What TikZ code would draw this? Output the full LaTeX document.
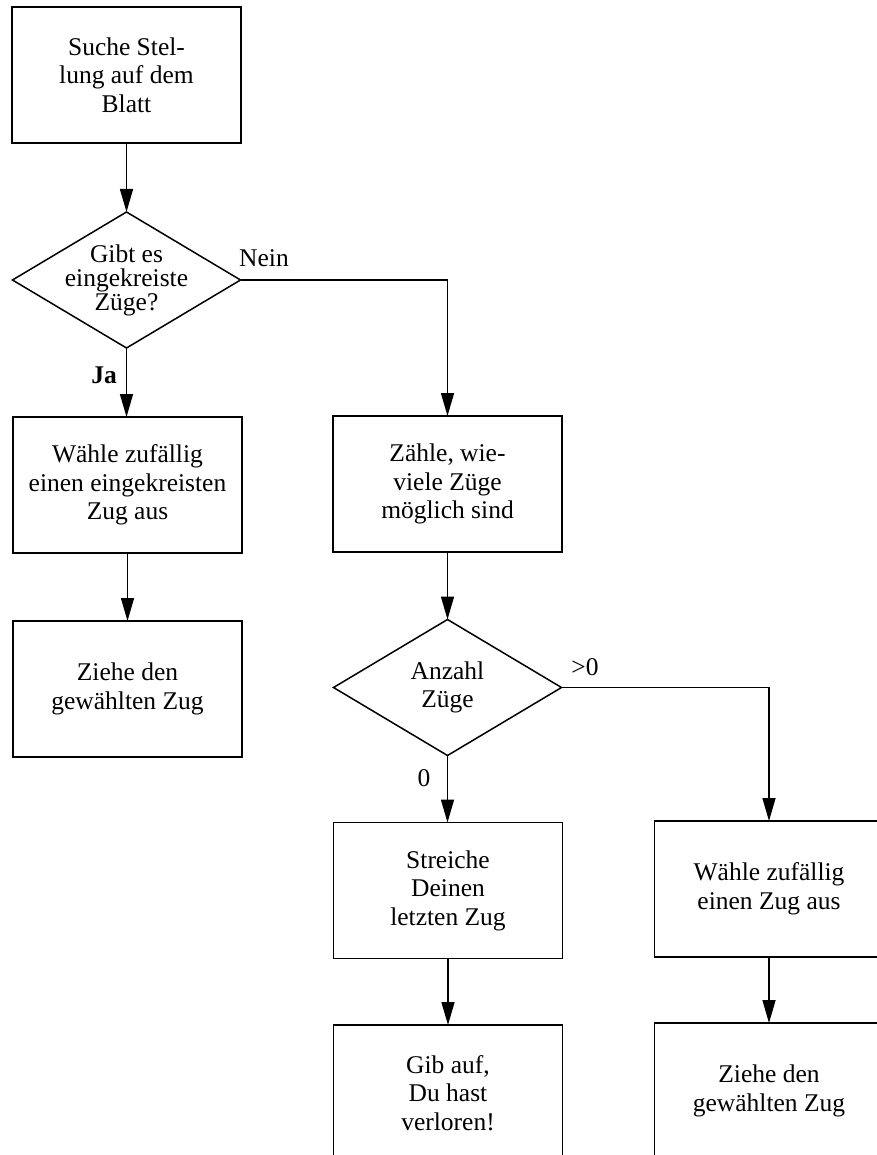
\documentclass[tikz,border=0pt]{standalone}
\usepackage{fontspec}
\setmainfont{Liberation Serif}
\usetikzlibrary{arrows.meta,shapes.geometric}
\begin{document}
\begin{tikzpicture}[x=1pt,y=-1pt,
  box/.style={draw, line width=1.5pt, rectangle, minimum width=229pt, minimum height=136pt, inner sep=0pt, outer sep=0pt, align=center, font=\fontsize{25.5}{28.5}\selectfont},
  dia/.style={draw, line width=1.5pt, diamond, minimum width=228pt, minimum height=136pt, inner sep=0pt, outer sep=0pt},
  txt/.style={align=center, font=\fontsize{25.5}{28.5}\selectfont, inner sep=0pt},
  lbl/.style={font=\fontsize{25.5}{28.5}\selectfont, inner sep=0pt},
  arr/.style={line width=1.5pt, -{Triangle[length=23pt,width=13pt]}}]
\useasboundingbox[fill=white] (0,0) rectangle (876,1155);

\node[box] (b1) at (126.5,75) {Suche Stel-\\lung auf dem\\Blatt};
\node[dia] (d1) at (126.5,280) {};
\node[txt, font=\fontsize{25.5}{24}\selectfont] (d1t) at (d1) {Gibt es\\eingekreiste\\Züge?};
\node[box] (b2) at (127.5,485) {Wähle zufällig\\einen\ eingekreisten\\Zug aus};
\node[box] (b4) at (127.5,689) {Ziehe den\\gewählten Zug};
\node[box] (b3) at (447.5,484) {Zähle, wie-\\viele Züge\\möglich sind};
\node[dia] (d2) at (447.5,687.5) {};
\node[txt] (d2t) at (d2) {Anzahl\\Züge};
\node[box] (b5) at (448,890.5) {Streiche\\Deinen\\letzten Zug};
\node[box] (b7) at (448,1093) {Gib auf,\\Du hast\\verloren!};
\node[box] (b6) at (769,889) {Wähle zufällig\\einen Zug aus};
\node[box] (b8) at (769,1091) {Ziehe den\\gewählten Zug};

\draw[arr] (b1.south) -- (d1.north);
\draw[arr] (d1.south) -- (d1.south |- b2.north);
\draw[arr] (b2.south) -- (b4.north);
\draw[arr] (d1.east) -| (b3.north);
\draw[arr] (b3.south) -- (d2.north);
\draw[arr] (d2.south) -- (d2.south |- b5.north);
\draw[arr] (d2.east) -| (b6.north);
\draw[arr] (b5.south) -- (b7.north);
\draw[arr] (b6.south) -- (b8.north);

\node[lbl] (lnein) at (264,258) {Nein};
\node[lbl] (lja) at (104,375) {\textbf{Ja}};
\node[lbl] (lgt) at (585,667) {>0};
\node[lbl] (lzero) at (424,778) {0};
\end{tikzpicture}
\end{document}
